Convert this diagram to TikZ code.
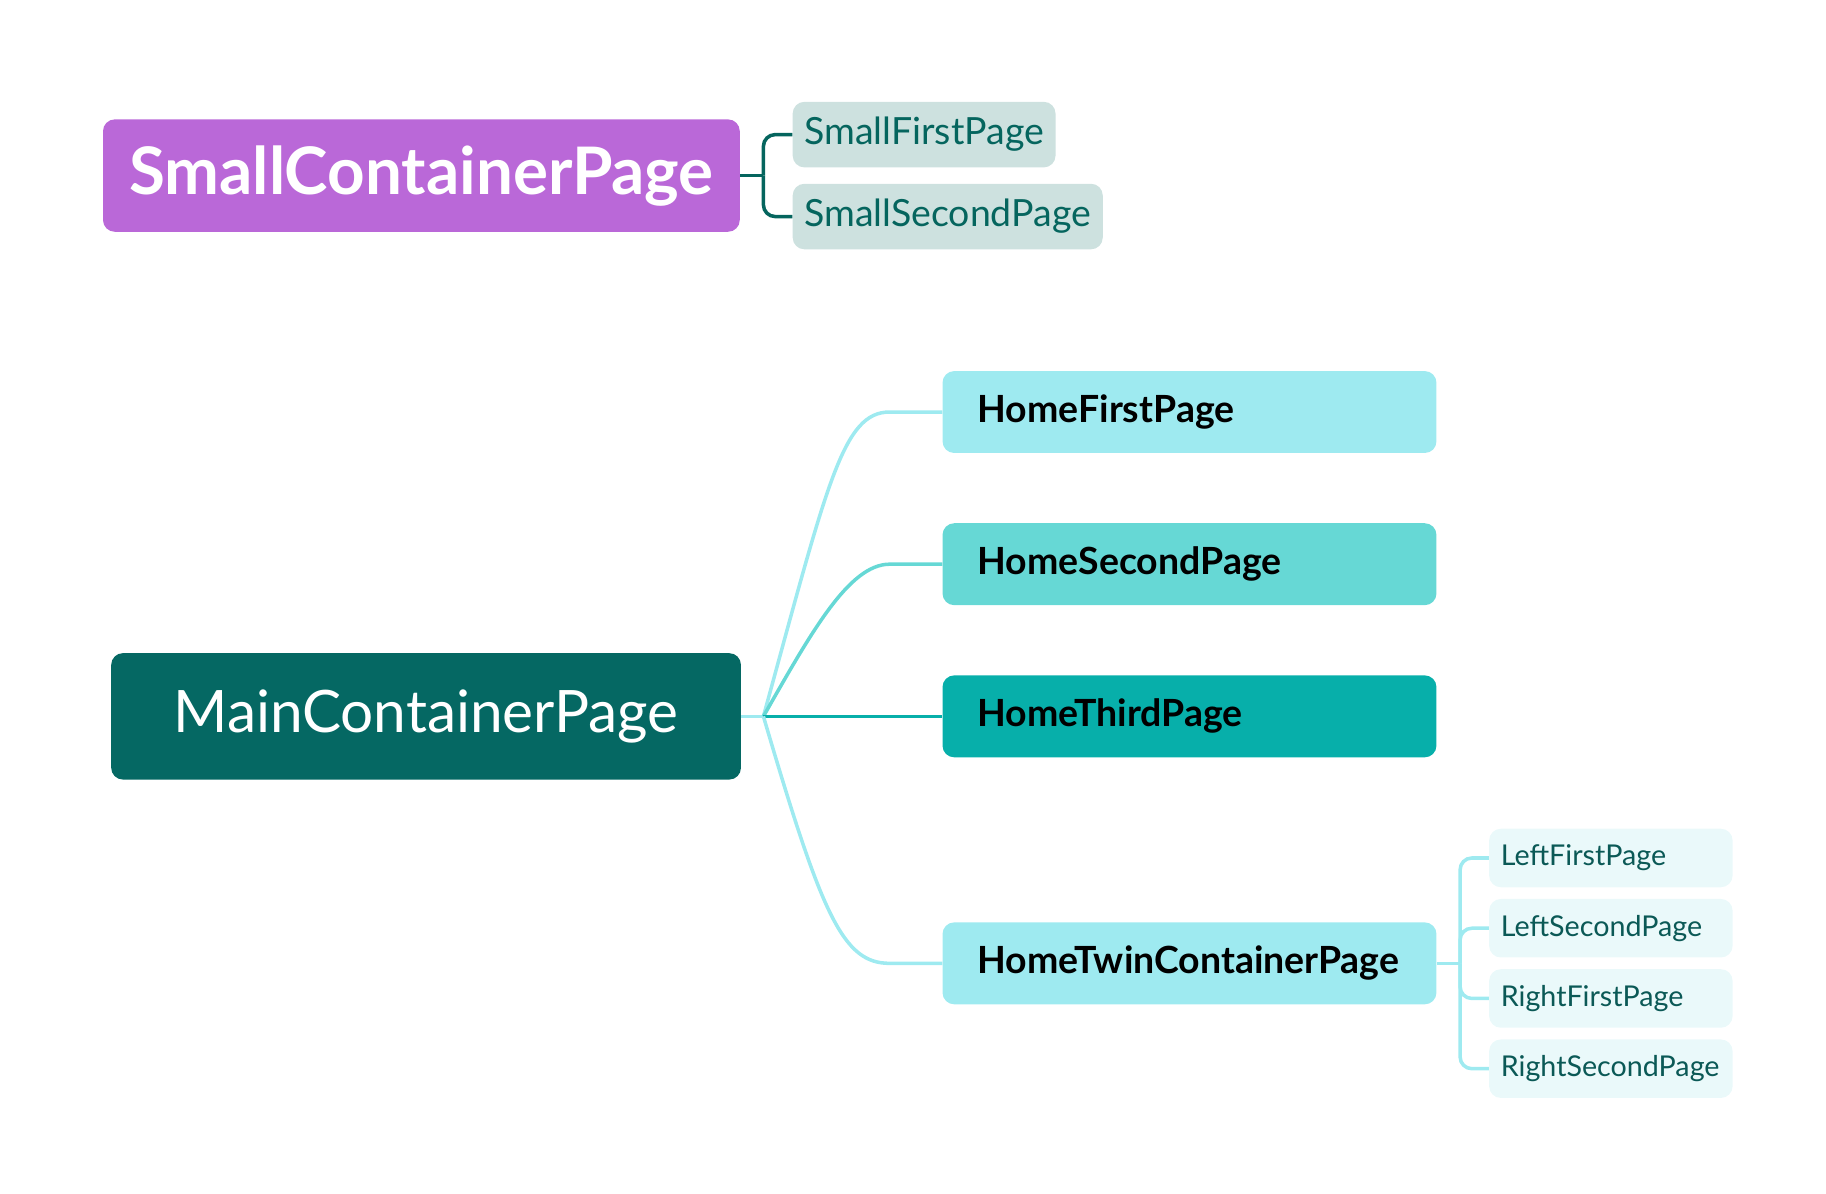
\documentclass[tikz,border=0pt]{standalone}
\usepackage{fontspec}
\setmainfont{Lato}
\definecolor{purplebox}{HTML}{BA68D8}
\definecolor{smallkid}{HTML}{CDE1DF}
\definecolor{darkteal}{HTML}{05655E}
\definecolor{mainbox}{HTML}{056863}
\definecolor{homelight}{HTML}{9EEAF0}
\definecolor{homemid}{HTML}{66D8D5}
\definecolor{homedark}{HTML}{07AFAA}
\definecolor{twinkid}{HTML}{EAF9FA}
\definecolor{twintext}{HTML}{0B5956}
\begin{document}
\begin{tikzpicture}[x=1pt, y=-1pt]
		\tikzstyle{all} = [rectangle, rounded corners=10pt, inner ysep=0pt]
		\tikzstyle{root} = [all, text=white, minimum height=96pt, inner xsep=0pt]
		\tikzstyle{home} = [all, anchor=west, text width=362pt, inner xsep=30pt, align=left, minimum height=70pt, font=\fontsize{32}{38}\selectfont\bfseries]
		\tikzstyle{smallkid} = [all, anchor=west, fill=smallkid, text=darkteal, inner xsep=10pt, minimum height=56pt, font=\fontsize{32}{38}\selectfont]
		\tikzstyle{twinkid} = [all, anchor=west, fill=twinkid, text=twintext, text width=188pt, inner xsep=10pt, align=left, minimum height=50pt, font=\fontsize{24.5}{30}\selectfont]
		\tikzstyle{link} = [line width=3pt, rounded corners=10pt]
		\useasboundingbox (0,0) rectangle (1560,1020);
		% small container
		\node[root, fill=purplebox, minimum width=544pt, font=\fontsize{56}{66}\selectfont\bfseries] (small) at (360,150) {SmallContainerPage};
		\node[smallkid] (smallfirst) at (677,115) {SmallFirstPage};
		\node[smallkid] (smallsecond) at (677,185) {SmallSecondPage};
		\draw[link, darkteal] (small.east) -- ++(20,0) coordinate (sfork);
		\draw[link, darkteal] (sfork) |- (smallfirst.west);
		\draw[link, darkteal] (sfork) |- (smallsecond.west);
		% main container
		\node[root, fill=mainbox, minimum width=538pt, minimum height=108pt, font=\fontsize{50}{60}\selectfont] (main) at (364,612) {MainContainerPage};
		\node[home, fill=homelight] (homefirst) at (805,352) {HomeFirstPage};
		\node[home, fill=homemid] (homesecond) at (805,482) {HomeSecondPage};
		\node[home, fill=homedark] (homethird) at (805,612) {HomeThirdPage};
		\node[home, fill=homelight] (hometwin) at (805,823) {HomeTwinContainerPage};
		\draw[link, homelight] (main.east) -- ++(19,0) coordinate (mfork);
		\draw[link, homelight] (mfork) .. controls +(55,-200) and +(-50,0) .. ([xshift=-35pt]homefirst.west) -- (homefirst.west);
		\draw[link, homemid] (mfork) .. controls +(40,-70) and +(-45,0) .. ([xshift=-35pt]homesecond.west) -- (homesecond.west);
		\draw[link, homedark] (mfork) -- (homethird.west);
		\draw[link, homelight] (mfork) .. controls +(50,170) and +(-50,0) .. ([xshift=-35pt]hometwin.west) -- (hometwin.west);
		% twin container
		\node[twinkid] (leftfirst) at (1272,733) {LeftFirstPage};
		\node[twinkid] (leftsecond) at (1272,793) {LeftSecondPage};
		\node[twinkid] (rightfirst) at (1272,853) {RightFirstPage};
		\node[twinkid] (rightsecond) at (1272,913) {RightSecondPage};
		\draw[link, homelight] (hometwin.east) -- ++(20,0) coordinate (tfork);
		\foreach \kid in {leftfirst, leftsecond, rightfirst, rightsecond}
			\draw[link, homelight] (tfork) |- (\kid.west);
		\end{tikzpicture}
\end{document}
